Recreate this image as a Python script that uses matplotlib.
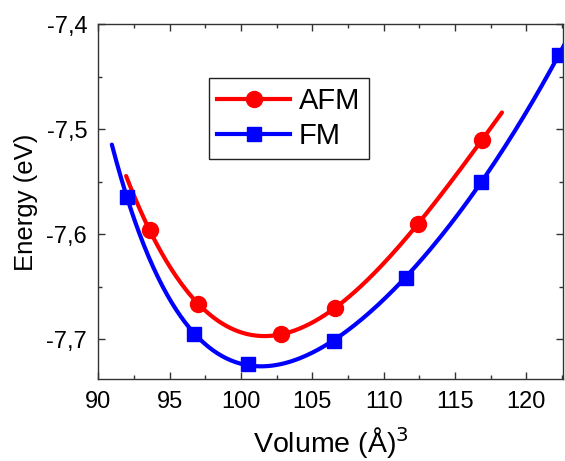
import numpy as np
from matplotlib import pyplot as plt
from matplotlib.ticker import FuncFormatter, MultipleLocator

plt.rcParams['font.family'] = ['Liberation Sans', 'DejaVu Sans']

# data
afm_vol = [93.6, 97.0, 102.8, 106.6, 112.4, 116.9]
afm_energy = [-7.596, -7.666, -7.695, -7.670, -7.590, -7.510]
fm_vol = [92.0, 96.7, 100.5, 106.5, 111.6, 116.8, 122.3]
fm_energy = [-7.564, -7.695, -7.723, -7.701, -7.641, -7.550, -7.429]

# range of the fitted curves
afm_fit_range = (91.95, 118.3)
fm_fit_range = (90.95, 123.0)

fig = plt.figure(figsize=(5.65, 4.61), dpi=100)
ax = fig.add_axes([0.174, 0.177, 0.823, 0.770])

for vol, en, rng, col, mk, ms, lab in [
    (afm_vol, afm_energy, afm_fit_range, 'red', 'o', 11.5, 'AFM'),
    (fm_vol, fm_energy, fm_fit_range, 'blue', 's', 10.5, 'FM'),
]:
    # smooth E(V) fit: polynomial in V^(-2/3)
    coef = np.polyfit(np.array(vol) ** (-2 / 3), en, 4)
    xs = np.linspace(rng[0], rng[1], 300)
    ax.plot(xs, np.polyval(coef, xs ** (-2 / 3)), color=col, lw=3, solid_capstyle='round')
    ax.plot(vol, en, mk, color=col, ms=ms, lw=0)
    ax.plot([], [], color=col, marker=mk, ms=ms, lw=3, label=lab)

ax.set_xlim(90, 122.6)
ax.set_ylim(-7.738, -7.4)
ax.xaxis.set_major_locator(MultipleLocator(5))
ax.xaxis.set_minor_locator(MultipleLocator(2.5))
ax.yaxis.set_major_locator(MultipleLocator(0.1))
ax.yaxis.set_minor_locator(MultipleLocator(0.05))
ax.yaxis.set_major_formatter(FuncFormatter(lambda v, p: f'{v:.1f}'.replace('.', ',')))

ax.tick_params(which='both', direction='in', top=True, right=True, width=1, color='#333333')
ax.tick_params(which='major', length=5, labelsize=17, pad=8)
ax.tick_params(which='minor', length=3)
for s in ax.spines.values():
    s.set_color('#333333')
    s.set_linewidth(1)

ax.set_xlabel('Volume (Å)$^3$', fontsize=20.5, labelpad=9)
ax.set_ylabel('Energy (eV)', fontsize=18.5, labelpad=6)

leg = ax.legend(loc='upper left', bbox_to_anchor=(0.237, 0.848), fontsize=21,
                handlelength=2.5, fancybox=False, framealpha=1, edgecolor='#222222',
                borderpad=0.3, labelspacing=0.25, handletextpad=0.3, borderaxespad=0)
leg.get_frame().set_linewidth(1)

fig.savefig('out.png', dpi=100)
